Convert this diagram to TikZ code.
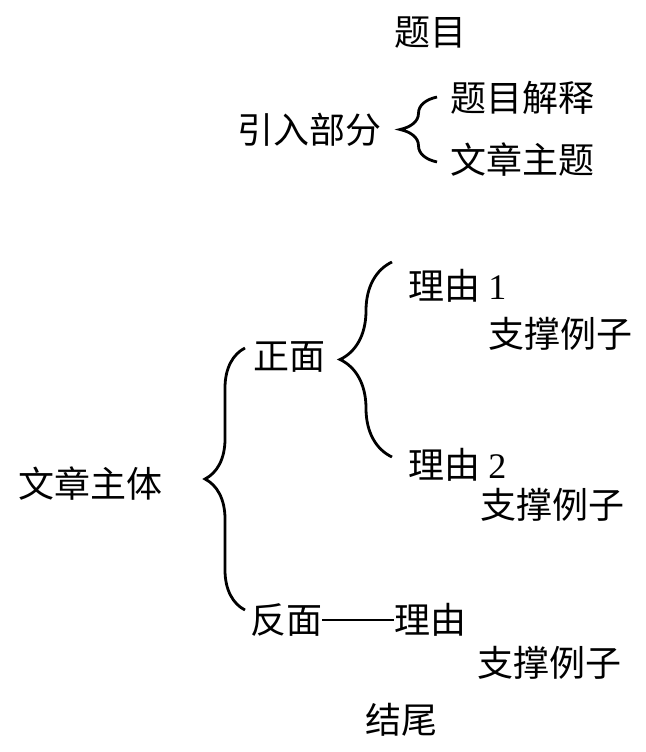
\documentclass[tikz,border=0pt]{standalone}
\usepackage{fontspec}
\newfontfamily\cjk{Noto Sans CJK SC}
\newfontfamily\numfont{Liberation Serif}
\usetikzlibrary{decorations.pathreplacing,positioning}

\begin{document}
\begin{tikzpicture}[
    x=1pt, y=-1pt,
    font=\cjk\fontsize{36}{40}\selectfont,
    item/.style={anchor=west, inner sep=0pt},
    bracket/.style={decorate, decoration={brace, amplitude=#1}, line width=2.8pt}
]
\useasboundingbox (0,0) rectangle (645,752);

\node[inner sep=0pt] (title) at (430,33) {题目};

% introduction
\node[item] (intro) at (237,130) {引入部分};
\node[item] (explain) at (450,98) {题目解释};
\node[item] (theme) at (450,160) {文章主题};
\coordinate (introTop) at (437,97);
\coordinate (introBot) at (437,162);
\draw[bracket=37pt] (introBot) -- (introTop);

% body
\node[item] (body) at (18,484) {文章主体};
\node[item] (pro) at (253,357) {正面};
\node[item] (reasonA) at (408,286) {理由 {\numfont 1}};
\node[item] (exampleA) at (488,334) {支撑例子};
\node[item] (reasonB) at (408,465) {理由 {\numfont 2}};
\node[item] (exampleB) at (480,505) {支撑例子};
\node[item] (con) at (250,620) {反面\rule[0.36em]{2em}{0.04em}理由};
\node[item] (exampleC) at (477,663) {支撑例子};

\coordinate (proTop) at (392,262);
\coordinate (proBot) at (392,457);
\draw[bracket=52pt] (proBot) -- (proTop);

\coordinate (bodyTop) at (245,348);
\coordinate (bodyBot) at (245,610);
\draw[bracket=40pt] (bodyBot) -- (bodyTop);

\node[item] (ending) at (365,720) {结尾};

\end{tikzpicture}
\end{document}
